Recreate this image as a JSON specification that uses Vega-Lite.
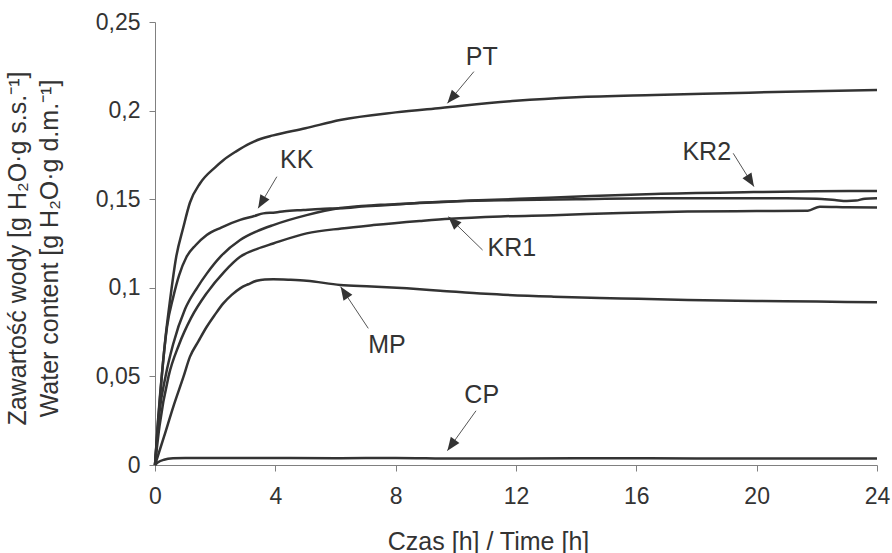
{
  "$schema": "https://vega.github.io/schema/vega-lite/v6.json",
  "width": 722,
  "height": 443,
  "autosize": "none",
  "padding": {"left": 155, "top": 22, "right": 15, "bottom": 88},
  "background": "#ffffff",
  "config": {
    "font": "Liberation Sans, Arial, sans-serif",
    "view": {"stroke": null},
    "axis": {
      "grid": false,
      "domainColor": "#808080",
      "tickColor": "#808080",
      "tickSize": 6,
      "labelColor": "#333333",
      "labelFontSize": 23,
      "labelFlush": false,
      "titleColor": "#333333",
      "titleFontSize": 25,
      "titleFontWeight": "normal"
    }
  },
  "datasets": {
    "curves": [
      {"series": "PT", "t": 0, "w": 0},
      {"series": "PT", "t": 0.1, "w": 0.024},
      {"series": "PT", "t": 0.2, "w": 0.045},
      {"series": "PT", "t": 0.35, "w": 0.072},
      {"series": "PT", "t": 0.5, "w": 0.093},
      {"series": "PT", "t": 0.7, "w": 0.117},
      {"series": "PT", "t": 0.94, "w": 0.134},
      {"series": "PT", "t": 1.16, "w": 0.148},
      {"series": "PT", "t": 1.5, "w": 0.159},
      {"series": "PT", "t": 2.0, "w": 0.168},
      {"series": "PT", "t": 2.27, "w": 0.172},
      {"series": "PT", "t": 2.7, "w": 0.177},
      {"series": "PT", "t": 3.16, "w": 0.1815},
      {"series": "PT", "t": 3.5, "w": 0.184},
      {"series": "PT", "t": 3.93, "w": 0.186},
      {"series": "PT", "t": 5.0, "w": 0.19},
      {"series": "PT", "t": 6.15, "w": 0.1947},
      {"series": "PT", "t": 8.0, "w": 0.199},
      {"series": "PT", "t": 9.5, "w": 0.2015},
      {"series": "PT", "t": 12.0, "w": 0.2055},
      {"series": "PT", "t": 14.0, "w": 0.2075},
      {"series": "PT", "t": 16.6, "w": 0.2088},
      {"series": "PT", "t": 19.0, "w": 0.2098},
      {"series": "PT", "t": 21.0, "w": 0.2107},
      {"series": "PT", "t": 24.0, "w": 0.2116},

      {"series": "KK", "t": 0, "w": 0},
      {"series": "KK", "t": 0.1, "w": 0.025},
      {"series": "KK", "t": 0.25, "w": 0.055},
      {"series": "KK", "t": 0.4, "w": 0.078},
      {"series": "KK", "t": 0.61, "w": 0.095},
      {"series": "KK", "t": 0.8, "w": 0.107},
      {"series": "KK", "t": 1.05, "w": 0.1175},
      {"series": "KK", "t": 1.35, "w": 0.124},
      {"series": "KK", "t": 1.72, "w": 0.1298},
      {"series": "KK", "t": 2.2, "w": 0.134},
      {"series": "KK", "t": 2.83, "w": 0.1383},
      {"series": "KK", "t": 3.3, "w": 0.1405},
      {"series": "KK", "t": 3.6, "w": 0.142},
      {"series": "KK", "t": 4.0, "w": 0.1425},
      {"series": "KK", "t": 4.3, "w": 0.1432},
      {"series": "KK", "t": 4.93, "w": 0.1439},
      {"series": "KK", "t": 5.5, "w": 0.1445},
      {"series": "KK", "t": 6.15, "w": 0.1449},
      {"series": "KK", "t": 7.0, "w": 0.146},
      {"series": "KK", "t": 8.0, "w": 0.147},
      {"series": "KK", "t": 8.8, "w": 0.148},
      {"series": "KK", "t": 10.0, "w": 0.1488},
      {"series": "KK", "t": 12.1, "w": 0.1495},
      {"series": "KK", "t": 14.0, "w": 0.15},
      {"series": "KK", "t": 16.6, "w": 0.1505},
      {"series": "KK", "t": 19.0, "w": 0.1505},
      {"series": "KK", "t": 21.0, "w": 0.1505},
      {"series": "KK", "t": 22.0, "w": 0.1503},
      {"series": "KK", "t": 22.6, "w": 0.1495},
      {"series": "KK", "t": 23.0, "w": 0.149},
      {"series": "KK", "t": 23.3, "w": 0.1492},
      {"series": "KK", "t": 23.6, "w": 0.1503},
      {"series": "KK", "t": 24.0, "w": 0.1505},

      {"series": "KR2", "t": 0, "w": 0},
      {"series": "KR2", "t": 0.15, "w": 0.03},
      {"series": "KR2", "t": 0.35, "w": 0.05},
      {"series": "KR2", "t": 0.6, "w": 0.068},
      {"series": "KR2", "t": 1.0, "w": 0.088},
      {"series": "KR2", "t": 1.4, "w": 0.1},
      {"series": "KR2", "t": 1.72, "w": 0.108},
      {"series": "KR2", "t": 2.2, "w": 0.118},
      {"series": "KR2", "t": 2.83, "w": 0.127},
      {"series": "KR2", "t": 3.4, "w": 0.132},
      {"series": "KR2", "t": 3.93, "w": 0.1354},
      {"series": "KR2", "t": 5.04, "w": 0.141},
      {"series": "KR2", "t": 6.15, "w": 0.145},
      {"series": "KR2", "t": 7.5, "w": 0.1468},
      {"series": "KR2", "t": 8.8, "w": 0.1478},
      {"series": "KR2", "t": 10.5, "w": 0.1492},
      {"series": "KR2", "t": 12.1, "w": 0.1502},
      {"series": "KR2", "t": 14.5, "w": 0.1518},
      {"series": "KR2", "t": 16.6, "w": 0.153},
      {"series": "KR2", "t": 19.9, "w": 0.154},
      {"series": "KR2", "t": 22.0, "w": 0.1545},
      {"series": "KR2", "t": 24.0, "w": 0.1546},

      {"series": "KR1", "t": 0, "w": 0},
      {"series": "KR1", "t": 0.15, "w": 0.022},
      {"series": "KR1", "t": 0.45, "w": 0.05},
      {"series": "KR1", "t": 0.8, "w": 0.068},
      {"series": "KR1", "t": 1.2, "w": 0.083},
      {"series": "KR1", "t": 1.72, "w": 0.097},
      {"series": "KR1", "t": 2.3, "w": 0.109},
      {"series": "KR1", "t": 2.83, "w": 0.1175},
      {"series": "KR1", "t": 3.4, "w": 0.122},
      {"series": "KR1", "t": 3.93, "w": 0.125},
      {"series": "KR1", "t": 5.04, "w": 0.1307},
      {"series": "KR1", "t": 6.2, "w": 0.1335},
      {"series": "KR1", "t": 7.26, "w": 0.1354},
      {"series": "KR1", "t": 8.8, "w": 0.1377},
      {"series": "KR1", "t": 9.8, "w": 0.139},
      {"series": "KR1", "t": 11.5, "w": 0.1403},
      {"series": "KR1", "t": 13.25, "w": 0.141},
      {"series": "KR1", "t": 15.5, "w": 0.1422},
      {"series": "KR1", "t": 17.7, "w": 0.143},
      {"series": "KR1", "t": 20.0, "w": 0.1433},
      {"series": "KR1", "t": 21.7, "w": 0.1435},
      {"series": "KR1", "t": 22.1, "w": 0.1458},
      {"series": "KR1", "t": 23.0, "w": 0.1455},
      {"series": "KR1", "t": 24.0, "w": 0.1453},

      {"series": "MP", "t": 0, "w": 0},
      {"series": "MP", "t": 0.3, "w": 0.016},
      {"series": "MP", "t": 0.61, "w": 0.033},
      {"series": "MP", "t": 0.95, "w": 0.05},
      {"series": "MP", "t": 1.16, "w": 0.061},
      {"series": "MP", "t": 1.45, "w": 0.07},
      {"series": "MP", "t": 1.72, "w": 0.078},
      {"series": "MP", "t": 2.0, "w": 0.085},
      {"series": "MP", "t": 2.27, "w": 0.0912},
      {"series": "MP", "t": 2.55, "w": 0.096},
      {"series": "MP", "t": 2.83, "w": 0.0997},
      {"series": "MP", "t": 3.1, "w": 0.102},
      {"series": "MP", "t": 3.38, "w": 0.104},
      {"series": "MP", "t": 3.65, "w": 0.1047},
      {"series": "MP", "t": 3.93, "w": 0.1048},
      {"series": "MP", "t": 4.5, "w": 0.1045},
      {"series": "MP", "t": 5.04, "w": 0.104},
      {"series": "MP", "t": 6.15, "w": 0.1016},
      {"series": "MP", "t": 7.2, "w": 0.1008},
      {"series": "MP", "t": 8.37, "w": 0.0997},
      {"series": "MP", "t": 9.48, "w": 0.0984},
      {"series": "MP", "t": 11.0, "w": 0.0966},
      {"series": "MP", "t": 13.25, "w": 0.095},
      {"series": "MP", "t": 15.5, "w": 0.094},
      {"series": "MP", "t": 17.7, "w": 0.0931},
      {"series": "MP", "t": 20.0, "w": 0.0926},
      {"series": "MP", "t": 22.0, "w": 0.0922},
      {"series": "MP", "t": 24.0, "w": 0.0918},

      {"series": "CP", "t": 0, "w": 0},
      {"series": "CP", "t": 0.1, "w": 0.0015},
      {"series": "CP", "t": 0.3, "w": 0.003},
      {"series": "CP", "t": 0.6, "w": 0.0038},
      {"series": "CP", "t": 1.0, "w": 0.004},
      {"series": "CP", "t": 3.0, "w": 0.004},
      {"series": "CP", "t": 6.0, "w": 0.0038},
      {"series": "CP", "t": 8.0, "w": 0.004},
      {"series": "CP", "t": 10.0, "w": 0.0036},
      {"series": "CP", "t": 14.0, "w": 0.0038},
      {"series": "CP", "t": 18.0, "w": 0.0037},
      {"series": "CP", "t": 24.0, "w": 0.0036}
    ],
    "notes": [
      {"label": "PT", "lx": 10.86, "ly": 0.2304, "x": 10.6, "y": 0.222, "x2": 9.72, "y2": 0.2041},
      {"label": "KK", "lx": 4.71, "ly": 0.1723, "x": 4.05, "y": 0.1627, "x2": 3.43, "y2": 0.1449},
      {"label": "KR2", "lx": 18.34, "ly": 0.1768, "x": 19.22, "y": 0.1759, "x2": 19.91, "y2": 0.1571},
      {"label": "KR1", "lx": 11.86, "ly": 0.1223, "x": 10.89, "y": 0.1213, "x2": 9.75, "y2": 0.1401},
      {"label": "MP", "lx": 7.71, "ly": 0.0677, "x": 7.09, "y": 0.0771, "x2": 6.17, "y2": 0.1006},
      {"label": "CP", "lx": 10.86, "ly": 0.0395, "x": 10.67, "y": 0.0306, "x2": 9.72, "y2": 0.0081}
    ]
  },
  "layer": [
    {
      "data": {"name": "curves"},
      "mark": {"type": "line", "color": "#333333", "strokeWidth": 2.5, "interpolate": "monotone"},
      "encoding": {
        "x": {
          "field": "t",
          "type": "quantitative",
          "scale": {"domain": [0, 24], "nice": false},
          "axis": {
            "values": [0, 4, 8, 12, 16, 20, 24],
            "labelPadding": 14,
            "title": "Czas [h] / Time [h]",
            "titleX": 333,
            "titleY": 84,
            "titleAlign": "center",
            "titleBaseline": "alphabetic"
          }
        },
        "y": {
          "field": "w",
          "type": "quantitative",
          "scale": {"domain": [0, 0.25], "nice": false},
          "axis": {
            "values": [0, 0.05, 0.1, 0.15, 0.2, 0.25],
            "labelExpr": "replace(format(datum.value, '~g'), '.', ',')",
            "labelPadding": 9,
            "title": ["Zawartość wody [g H₂O·g s.s.⁻¹]", "Water content [g H₂O·g d.m.⁻¹]"],
            "titleAngle": -90,
            "titleAlign": "center",
            "titleBaseline": "top",
            "titleLineHeight": 32,
            "titleX": -150,
            "titleY": 226
          }
        },
        "detail": {"field": "series"}
      }
    },
    {
      "data": {"name": "notes"},
      "mark": {"type": "rule", "color": "#555555", "strokeWidth": 1},
      "encoding": {
        "x": {"field": "x", "type": "quantitative"},
        "y": {"field": "y", "type": "quantitative"},
        "x2": {"field": "x2"},
        "y2": {"field": "y2"}
      }
    },
    {
      "data": {"name": "notes"},
      "transform": [
        {"calculate": "atan2((datum.x2 - datum.x) * 30.08, (datum.y2 - datum.y) * 1772) * 180 / PI", "as": "ang"}
      ],
      "mark": {"type": "point", "shape": "M0,0L-0.4,1L0.4,1Z", "filled": true, "color": "#333333", "opacity": 1, "size": 700},
      "encoding": {
        "x": {"field": "x2", "type": "quantitative"},
        "y": {"field": "y2", "type": "quantitative"},
        "angle": {"field": "ang", "type": "quantitative", "scale": null}
      }
    },
    {
      "data": {"name": "notes"},
      "mark": {"type": "text", "fontSize": 25, "color": "#333333", "align": "center", "baseline": "middle"},
      "encoding": {
        "x": {"field": "lx", "type": "quantitative"},
        "y": {"field": "ly", "type": "quantitative"},
        "text": {"field": "label"}
      }
    }
  ]
}
